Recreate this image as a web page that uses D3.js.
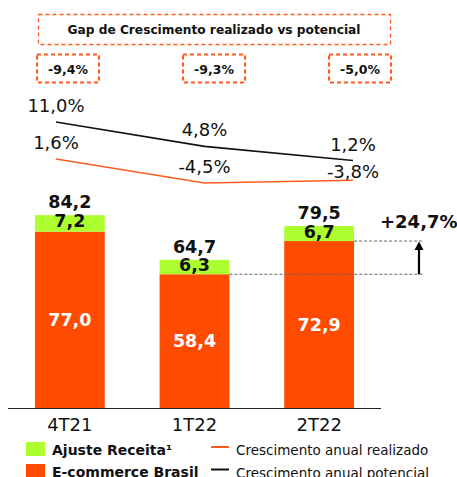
<!DOCTYPE html>
<html>
<head>
<meta charset="utf-8">
<script src="https://cdnjs.cloudflare.com/ajax/libs/d3/7.8.5/d3.min.js"></script>
<style>
  body { margin: 0; background: #fff; }
  svg { display: block; font-family: "DejaVu Sans", Verdana, sans-serif; }
</style>
</head>
<body>
<div id="chart"></div>
<script>
// data
var categories = ["4T21", "1T22", "2T22"];
var ecommerce = [77.0, 58.4, 72.9];
var ajuste = [7.2, 6.3, 6.7];
var totals = [84.2, 64.7, 79.5];
var realizado = [1.6, -4.5, -3.8];
var potencial = [11.0, 4.8, 1.2];
var gaps = ["-9,4%", "-9,3%", "-5,0%"];
var title = "Gap de Crescimento realizado vs potencial";
var growthLabel = "+24,7%";

var width = 457, height = 477;
var orange = "#ff4b00", green = "#adff2f", lineOrange = "#ff5a1f";

function fmt(v) { return v.toFixed(1).replace(".", ","); }

var svg = d3.select("#chart").append("svg")
    .attr("width", width)
    .attr("height", height);

// scales
var x = d3.scaleBand().domain(categories).range([10, 379])
    .paddingInner(0.44).paddingOuter(0.2);
var y = d3.scaleLinear().domain([0, 90]).range([408, 201.9]);
var xLine = d3.scalePoint().domain(categories).range([56, 353]);
var yLine = d3.scaleLinear().domain([-5, 12]).range([184.9, 118.1]);
var xGap = d3.scalePoint().domain(categories).range([68, 360]);

// title box
svg.append("rect")
    .attr("x", 38.5).attr("y", 14.5).attr("width", 352).attr("height", 30)
    .attr("fill", "none").attr("stroke", lineOrange).attr("stroke-width", 1.3)
    .attr("stroke-dasharray", "4,3");
svg.append("text")
    .attr("x", 214).attr("y", 34)
    .attr("text-anchor", "middle").attr("font-size", 12.2).attr("font-weight", "bold")
    .attr("fill", "#111")
    .text(title);

// gap boxes
var gapG = svg.selectAll(".gap").data(gaps).enter().append("g")
    .attr("transform", function (d, i) { return "translate(" + xGap(categories[i]) + ",0)"; });
gapG.append("rect")
    .attr("x", -31).attr("y", 54.5).attr("width", 62).attr("height", 28)
    .attr("fill", "none").attr("stroke", lineOrange).attr("stroke-width", 2.2)
    .attr("stroke-dasharray", "4,3");
gapG.append("text")
    .attr("y", 74).attr("text-anchor", "middle")
    .attr("font-size", 12.5).attr("font-weight", "bold").attr("fill", "#111")
    .text(function (d) { return d; });

// growth lines
var line = d3.line()
    .x(function (d, i) { return xLine(categories[i]); })
    .y(function (d) { return yLine(d); });

svg.append("path").datum(potencial)
    .attr("d", line).attr("fill", "none").attr("stroke", "#111").attr("stroke-width", 1.6);
svg.append("path").datum(realizado)
    .attr("d", line).attr("fill", "none").attr("stroke", lineOrange).attr("stroke-width", 1.6);

svg.selectAll(null).data(potencial).enter().append("text")
    .attr("x", function (d, i) { return xLine(categories[i]); })
    .attr("y", function (d) { return yLine(d) - 10; })
    .attr("text-anchor", "middle").attr("font-size", 18).attr("fill", "#111")
    .text(function (d) { return fmt(d) + "%"; });
// realised labels sit above their line but stay clear of the black one
svg.selectAll(null).data(realizado).enter().append("text")
    .attr("x", function (d, i) { return xLine(categories[i]); })
    .attr("y", function (d, i) { return Math.max(yLine(d) - 10, yLine(potencial[i]) + 17); })
    .attr("text-anchor", "middle").attr("font-size", 18).attr("fill", "#111")
    .text(function (d) { return fmt(d) + "%"; });

// bars
var bars = svg.selectAll(".bar").data(categories).enter().append("g");
bars.append("rect")
    .attr("x", function (d) { return x(d); })
    .attr("width", x.bandwidth())
    .attr("y", function (d, i) { return y(ecommerce[i]); })
    .attr("height", function (d, i) { return y(0) - y(ecommerce[i]); })
    .attr("fill", orange);
bars.append("rect")
    .attr("x", function (d) { return x(d); })
    .attr("width", x.bandwidth())
    .attr("y", function (d, i) { return y(totals[i]); })
    .attr("height", function (d, i) { return y(ecommerce[i]) - y(totals[i]); })
    .attr("fill", green);

// bar labels
bars.append("text")
    .attr("x", function (d) { return x(d) + x.bandwidth() / 2; })
    .attr("y", function (d, i) { return (y(0) + y(ecommerce[i])) / 2 + 6; })
    .attr("text-anchor", "middle").attr("font-size", 17.5).attr("font-weight", "bold")
    .attr("fill", "#fff")
    .text(function (d, i) { return fmt(ecommerce[i]); });
bars.append("text")
    .attr("x", function (d) { return x(d) + x.bandwidth() / 2; })
    .attr("y", function (d, i) { return (y(totals[i]) + y(ecommerce[i])) / 2 + 4; })
    .attr("text-anchor", "middle").attr("font-size", 17.5).attr("font-weight", "bold")
    .attr("fill", "#111")
    .text(function (d, i) { return fmt(ajuste[i]); });
bars.append("text")
    .attr("x", function (d) { return x(d) + x.bandwidth() / 2; })
    .attr("y", function (d, i) { return y(totals[i]) - 7; })
    .attr("text-anchor", "middle").attr("font-size", 17.5).attr("font-weight", "bold")
    .attr("fill", "#111")
    .text(function (d, i) { return fmt(totals[i]); });

// x axis
var xAxis = svg.append("g").attr("transform", "translate(0," + y(0) + ")")
    .call(d3.axisBottom(x).tickSize(0).tickPadding(10));
xAxis.select(".domain").attr("d", "M8,0.5H381").attr("stroke", "#222");
xAxis.selectAll("text").attr("font-size", 18).attr("fill", "#111")
    .attr("font-family", "DejaVu Sans, Verdana, sans-serif");

// growth annotation
var x1 = x(categories[1]) + x.bandwidth(), x2 = x(categories[2]) + x.bandwidth();
svg.append("line").attr("x1", x1).attr("x2", 423)
    .attr("y1", y(ecommerce[1])).attr("y2", y(ecommerce[1]))
    .attr("stroke", "#666").attr("stroke-dasharray", "3,2");
svg.append("line").attr("x1", x2).attr("x2", 423)
    .attr("y1", y(ecommerce[2])).attr("y2", y(ecommerce[2]))
    .attr("stroke", "#666").attr("stroke-dasharray", "3,2");
svg.append("line").attr("x1", 419).attr("x2", 419)
    .attr("y1", y(ecommerce[1])).attr("y2", y(ecommerce[2]) + 6)
    .attr("stroke", "#000").attr("stroke-width", 2.2);
svg.append("path")
    .attr("d", "M414.5," + (y(ecommerce[2]) + 9) + "L419," + (y(ecommerce[2]) + 0.5) + "L423.5," + (y(ecommerce[2]) + 9) + "Z")
    .attr("fill", "#000");
svg.append("text").attr("x", 380).attr("y", 228)
    .attr("font-size", 18).attr("font-weight", "bold").attr("fill", "#111")
    .text(growthLabel);

// legend
var legendBars = [["Ajuste Receita\u00b9", green], ["E-commerce Brasil", orange]];
var legendLines = [["Crescimento anual realizado", lineOrange], ["Crescimento anual potencial", "#111"]];
var lg = svg.selectAll(".lb").data(legendBars).enter().append("g")
    .attr("transform", function (d, i) { return "translate(26," + (442 + i * 22) + ")"; });
lg.append("rect").attr("width", 19).attr("height", 14).attr("fill", function (d) { return d[1]; });
lg.append("text").attr("x", 26).attr("y", 13)
    .attr("font-size", 14).attr("font-weight", "bold").attr("fill", "#111")
    .text(function (d) { return d[0]; });
var ll = svg.selectAll(".ll").data(legendLines).enter().append("g")
    .attr("transform", function (d, i) { return "translate(211," + (447 + i * 22.5) + ")"; });
ll.append("line").attr("x1", 0).attr("x2", 18)
    .attr("stroke", function (d) { return d[1]; }).attr("stroke-width", 2);
ll.append("text").attr("x", 25).attr("y", 8)
    .attr("font-size", 13.5).attr("fill", "#111")
    .text(function (d) { return d[0]; });
</script>
</body>
</html>
